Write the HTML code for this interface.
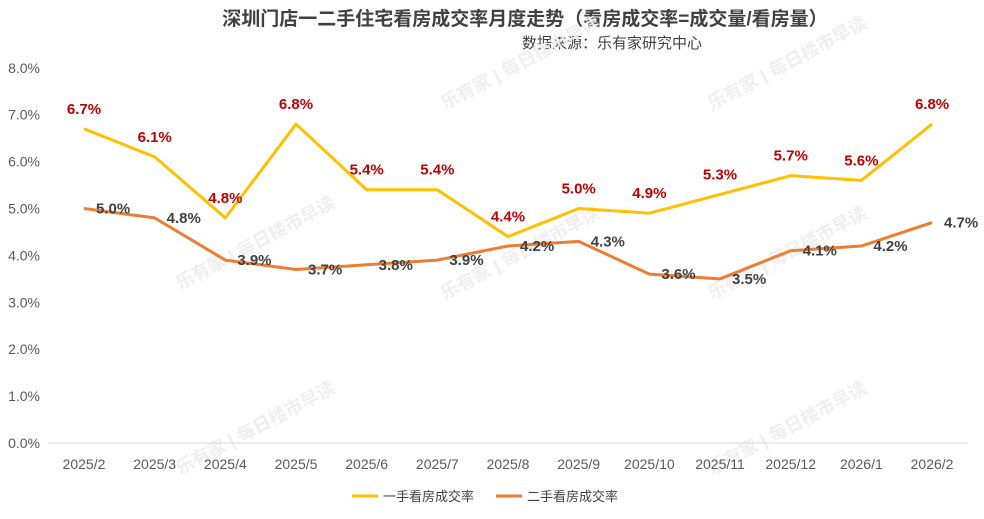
<!DOCTYPE html>
<html><head><meta charset="utf-8"><style>
body{margin:0;background:#fff;}
svg{display:block;font-family:"Liberation Sans","Noto Sans CJK SC",sans-serif;}
</style></head><body>
<svg width="984" height="519" viewBox="0 0 984 519">
<text x="525" y="25" text-anchor="middle" font-size="19" font-weight="bold" fill="#404040">深圳门店一二手住宅看房成交率月度走势（看房成交率=成交量/看房量）</text>
<text x="522" y="48" font-size="15" fill="#404040">数据来源：乐有家研究中心</text>
<g id="wm" fill="#efefef" font-size="18" font-weight="bold">
<text transform="translate(445,110) rotate(-28)">乐有家 | 每日楼市早读</text>
<text transform="translate(712,110) rotate(-28)">乐有家 | 每日楼市早读</text>
<text transform="translate(180,290) rotate(-28)">乐有家 | 每日楼市早读</text>
<text transform="translate(445,300) rotate(-28)">乐有家 | 每日楼市早读</text>
<text transform="translate(712,300) rotate(-28)">乐有家 | 每日楼市早读</text>
<text transform="translate(180,475) rotate(-28)">乐有家 | 每日楼市早读</text>
<text transform="translate(712,475) rotate(-28)">乐有家 | 每日楼市早读</text>
</g>
<g id="axes"></g>
<g id="series"></g>
<g>
<line x1="352" y1="496" x2="378" y2="496" stroke="#FFC000" stroke-width="3"/>
<text x="383" y="501" font-size="13" fill="#404040">一手看房成交率</text>
<line x1="496" y1="496" x2="522" y2="496" stroke="#ED7D31" stroke-width="3"/>
<text x="527" y="501" font-size="13" fill="#404040">二手看房成交率</text>
</g>
</svg>
<script>
const categories=["2025/2","2025/3","2025/4","2025/5","2025/6","2025/7","2025/8","2025/9","2025/10","2025/11","2025/12","2026/1","2026/2"];
const newHome=[6.7,6.1,4.8,6.8,5.4,5.4,4.4,5.0,4.9,5.3,5.7,5.6,6.8];
const secondHand=[5.0,4.8,3.9,3.7,3.8,3.9,4.2,4.3,3.6,3.5,4.1,4.2,4.7];
const yTicks=[0,1,2,3,4,5,6,7,8];
const NS="http://www.w3.org/2000/svg";
const x0=84,dx=70.67,yBase=443,pxPer=46.9;
const xs=i=>x0+i*dx, ys=v=>yBase-v*pxPer;
const axes=document.getElementById('axes'),ser=document.getElementById('series');
function mk(tag,attrs,parent,txt){const e=document.createElementNS(NS,tag);for(const k in attrs)e.setAttribute(k,attrs[k]);if(txt!==undefined)e.textContent=txt;parent.appendChild(e);return e;}
yTicks.forEach(t=>{
 const e=mk('text',{x:40,y:ys(t)+5,'text-anchor':'end','font-size':14,fill:'#595959'},axes,t.toFixed(1)+'%');
 
 
});
const ax=mk('line',{x1:48,x2:968,y1:yBase,y2:yBase,stroke:'#d9d9d9','stroke-width':1},axes);


categories.forEach((c,i)=>{
 const e=mk('text',{x:xs(i),y:469,'text-anchor':'middle','font-size':14,fill:'#595959'},axes,c);
 
 
});
function line(vals,color,name){
 const p=mk('polyline',{points:vals.map((v,i)=>xs(i)+','+ys(v)).join(' '),fill:'none',stroke:color,'stroke-width':3,'stroke-linejoin':'round'},ser);
 
 
}
line(newHome,'#FFC000','series-new-line');
line(secondHand,'#ED7D31','series-second-line');
newHome.forEach((v,i)=>{
 const e=mk('text',{x:xs(i),y:ys(v)-15,'text-anchor':'middle','font-size':15,'font-weight':'bold',fill:'#C00000'},ser,v.toFixed(1)+'%');
 
 
});
secondHand.forEach((v,i)=>{
 const e=mk('text',{x:xs(i)+12,y:ys(v)+5,'font-size':15,'font-weight':'bold',fill:'#404040'},ser,v.toFixed(1)+'%');
 
 
});
</script>
</body></html>
